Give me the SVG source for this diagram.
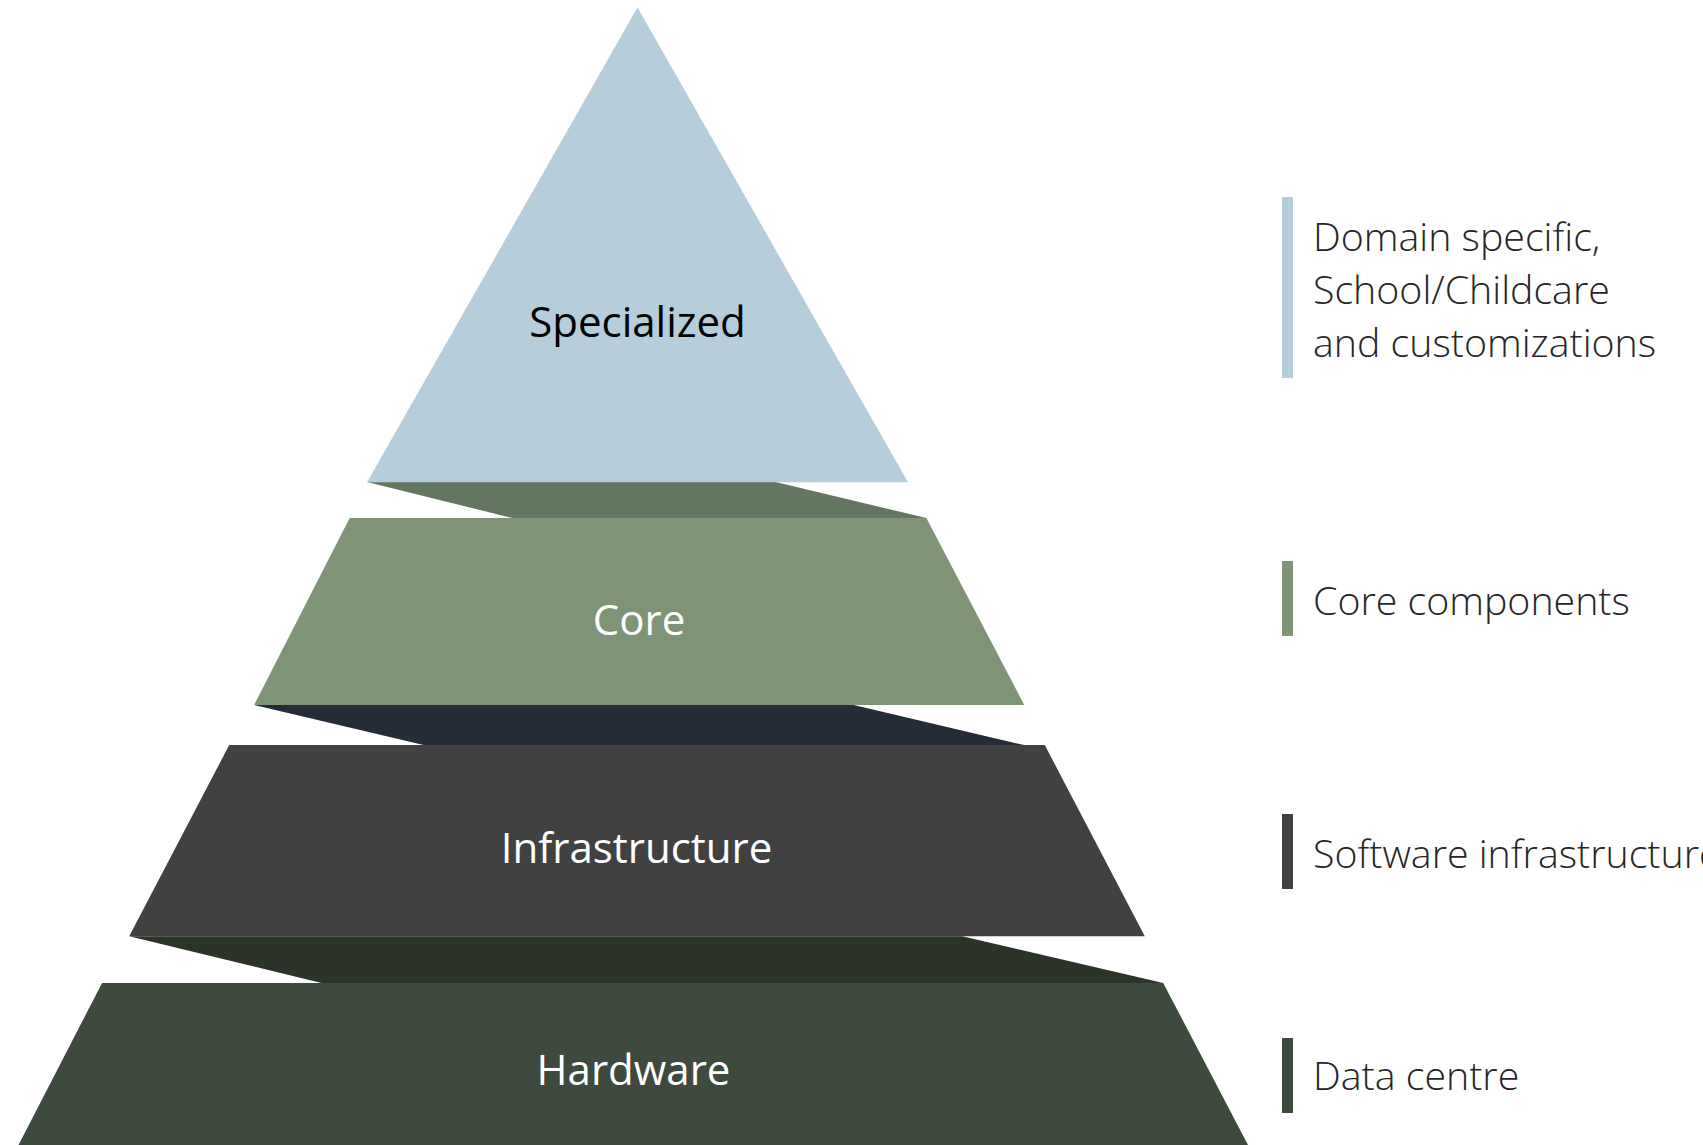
<svg xmlns="http://www.w3.org/2000/svg" width="1703" height="1145" viewBox="0 0 1703 1145">
<style>
.lbl{font-family:"Open Sans","Noto Sans",sans-serif;font-size:42px;text-anchor:middle}
.desc{font-family:"Open Sans","Noto Sans",sans-serif;font-weight:300;font-size:39.3px;fill:#262626}
</style>
<rect width="1703" height="1145" fill="#ffffff"/>
<g id="bands">
<polygon points="367,482 775.5,482 926.4,518.1 512.6,518.1" fill="#637660"/>
<polygon points="254.1,704.9 853.7,704.9 1024.2,745.1 423.6,745.1" fill="#252B37"/>
<polygon points="129.2,936.2 962.3,936.2 1163.2,982.9 321.5,982.9" fill="#2C3328"/>
</g>
<g id="specialized">
<polygon points="637.5,7.6 908,482.2 367,482.2" fill="#B6CDDB"/>
<text class="lbl" x="637.5" y="337" fill="#000000">Specialized</text>
</g>
<g id="core">
<polygon points="349.7,518.1 926.4,518.1 1024.2,704.9 254.1,704.9" fill="#7F9377"/>
<text class="lbl" x="639" y="635" fill="#ffffff">Core</text>
</g>
<g id="infrastructure">
<polygon points="229.2,745.1 1044.8,745.1 1144.8,936.2 129.2,936.2" fill="#414141"/>
<text class="lbl" x="636.5" y="863" fill="#ffffff">Infrastructure</text>
</g>
<g id="hardware">
<polygon points="102.1,982.9 1163.2,982.9 1248,1145 18.5,1145" fill="#3F4A3E"/>
<text class="lbl" x="633.5" y="1085" fill="#ffffff">Hardware</text>
</g>
<g id="legend-specialized">
<rect x="1282" y="197" width="11" height="181" fill="#B6CDDB"/>
<text class="desc" x="1313" y="251">Domain specific,</text>
<text class="desc" x="1313" y="304">School/Childcare</text>
<text class="desc" x="1313" y="357">and customizations</text>
</g>
<g id="legend-core">
<rect x="1282" y="561" width="11" height="75" fill="#7F9377"/>
<text class="desc" x="1313" y="615">Core components</text>
</g>
<g id="legend-infrastructure">
<rect x="1282" y="814" width="11" height="75" fill="#414141"/>
<text class="desc" x="1313" y="868">Software infrastructure</text>
</g>
<g id="legend-hardware">
<rect x="1282" y="1038" width="11" height="75" fill="#3F4A3E"/>
<text class="desc" x="1313" y="1090">Data centre</text>
</g>
</svg>
